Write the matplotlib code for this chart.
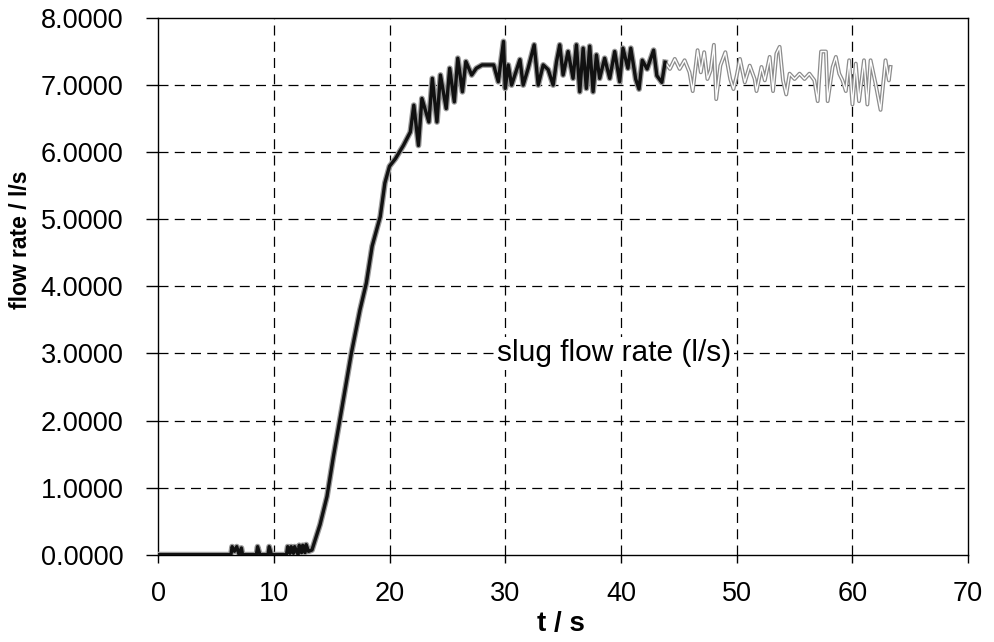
import matplotlib
matplotlib.use("Agg")
import matplotlib.pyplot as plt

# ---- data ----
# dark part of the trace (start-up, rise, first plateau)
t_dark = [0, 6.3, 6.4, 6.6, 6.8, 7.0, 7.2, 7.3, 8.5, 8.6, 8.8, 9.5, 9.6, 9.8,
          11.1, 11.2, 11.4, 11.5, 11.7, 11.8, 12.1, 12.2, 12.4, 12.5, 12.7, 12.8,
          13.0, 13.3, 14.0, 14.6, 15.15, 15.7, 16.2, 16.7, 17.45, 18.0, 18.5,
          19.2, 19.6, 20.0, 20.5, 21.2, 21.8, 22.1, 22.5, 22.8, 23.4, 23.7,
          24.1, 24.4, 24.9, 25.2, 25.6, 25.9, 26.3, 26.6, 27.1, 27.5, 28.0,
          29.0, 29.4, 29.85, 30.0, 30.26, 30.55, 31.27, 31.55, 31.98, 32.5,
          32.85, 33.28, 33.71, 34.14, 34.43, 34.71, 35.0, 35.43, 35.86, 36.15,
          36.44, 36.73, 37.01, 37.3, 37.59, 37.88, 38.16, 38.59, 39.03, 39.46,
          39.89, 40.17, 40.6, 40.85, 41.27, 41.56, 41.84, 42.26, 42.82, 43.1,
          43.53, 43.81]
q_dark = [0, 0, 0.12, 0.05, 0.12, 0.0, 0.10, 0, 0, 0.12, 0, 0, 0.12, 0,
          0, 0.12, 0.02, 0.12, 0.02, 0.12, 0, 0.14, 0.03, 0.14, 0.03, 0.15,
          0.05, 0.07, 0.45, 0.87, 1.46, 2.0, 2.5, 3.0, 3.65, 4.05, 4.6,
          5.04, 5.54, 5.79, 5.9, 6.1, 6.3, 6.7, 6.1, 6.8, 6.45, 7.1,
          6.45, 7.15, 6.65, 7.25, 6.75, 7.4, 6.9, 7.35, 7.15, 7.25, 7.3,
          7.3, 7.05, 7.65, 6.95, 7.3, 7.0, 7.38, 7.0, 7.25, 7.6,
          7.0, 7.3, 7.23, 7.0, 7.35, 7.6, 7.15, 7.5, 7.1, 7.6,
          6.9, 7.55, 6.95, 7.58, 6.9, 7.45, 7.1, 7.4, 7.1, 7.5,
          7.05, 7.55, 7.25, 7.55, 7.09, 6.94, 7.37, 7.24, 7.52, 7.14,
          7.04, 7.34]

# lighter (faded) tail of the trace
t_light = [43.81, 44.23, 44.65, 45.07, 45.5, 45.92, 46.2, 46.62, 46.9, 47.19,
           47.47, 47.75, 48.03, 48.23, 48.59, 49.02, 49.44, 49.72, 50.0, 50.28,
           50.7, 51.13, 51.55, 51.71, 52.14, 52.43, 52.85, 53.14, 53.43, 53.71,
           54.0, 54.28, 54.57, 55.0, 55.43, 55.86, 56.28, 56.71, 57.0, 57.29,
           57.71, 57.86, 58.29, 58.57, 58.86, 59.14, 59.43, 59.72, 60.0, 60.29,
           60.57, 61.0, 61.29, 61.57, 62.0, 62.43, 62.86, 63.15, 63.29]
q_light = [7.34, 7.24, 7.39, 7.24, 7.37, 7.19, 6.91, 7.52, 7.19, 7.49,
           7.09, 7.22, 7.60, 6.79, 7.29, 7.49, 7.09, 6.94, 7.14, 7.39,
           7.04, 7.29, 7.09, 6.91, 7.27, 7.07, 7.42, 6.91, 7.47, 7.57,
           7.07, 6.86, 7.17, 7.09, 7.17, 7.09, 7.17, 7.07, 6.76, 7.50,
           7.50, 6.76, 7.27, 7.42, 7.17, 7.07, 6.91, 7.37, 6.71, 7.32,
           6.76, 7.37, 6.71, 7.37, 7.02, 6.63, 7.37, 7.07, 7.27]

x_ticks = [0, 10, 20, 30, 40, 50, 60, 70]
x_ticklabels = [str(v) for v in x_ticks]
y_ticks = [0, 1, 2, 3, 4, 5, 6, 7, 8]
y_ticklabels = ["%.4f" % v for v in y_ticks]
series_label = "slug flow rate (l/s)"

REG = ["Liberation Sans", "DejaVu Sans"]
NARROW = ["Liberation Sans Narrow", "Liberation Sans", "DejaVu Sans"]
plt.rcParams["font.family"] = REG

# ---- figure ----
fig = plt.figure(figsize=(9.94, 6.42), dpi=100)
ax = fig.add_axes([0.159, 0.136, 0.815, 0.836])

ax.set_xlim(0, 70)
ax.set_ylim(0, 8)

grid_kw = dict(color="black", lw=0.9, linestyle=(0, (8, 5)), zorder=1)
for xv in x_ticks[1:-1]:
    ax.axvline(xv, **grid_kw)
for yv in y_ticks[1:-1]:
    ax.axhline(yv, **grid_kw)

# dark trace
ax.plot(t_dark, q_dark, color="#9a9a9a", lw=4.2, zorder=3)
ax.plot(t_dark, q_dark, color="#111111", lw=2.4, zorder=4)
# faded tail: outline look
ax.plot(t_light, q_light, color="#8c8c8c", lw=2.8, zorder=3)
ax.plot(t_light, q_light, color="white", lw=1.0, zorder=3.5)

ax.text(39.4, 3.0, series_label, ha="center", va="center", fontsize=21.5,
        family=REG, zorder=5,
        bbox=dict(facecolor="white", edgecolor="none", pad=2))

ax.set_xticks(x_ticks)
ax.set_xticklabels(x_ticklabels, fontsize=19.5, family=NARROW)
ax.set_yticks(y_ticks)
ax.set_yticklabels(y_ticklabels, fontsize=19.5, family=REG)
ax.tick_params(axis="y", direction="out", length=9, width=1, pad=16)
ax.tick_params(axis="x", direction="out", length=6, width=1, pad=13)

for sp in ax.spines.values():
    sp.set_linewidth(1.0)
    sp.set_color("black")

ax.set_ylabel("flow rate / l/s", fontsize=16.5, fontweight="bold", family=REG)
ax.yaxis.set_label_coords(-0.156, 0.587)
ax.set_xlabel("t / s", fontsize=20, fontweight="bold", family=NARROW)
ax.xaxis.set_label_coords(0.497, -0.105)

fig.savefig("out.png", dpi=100)
